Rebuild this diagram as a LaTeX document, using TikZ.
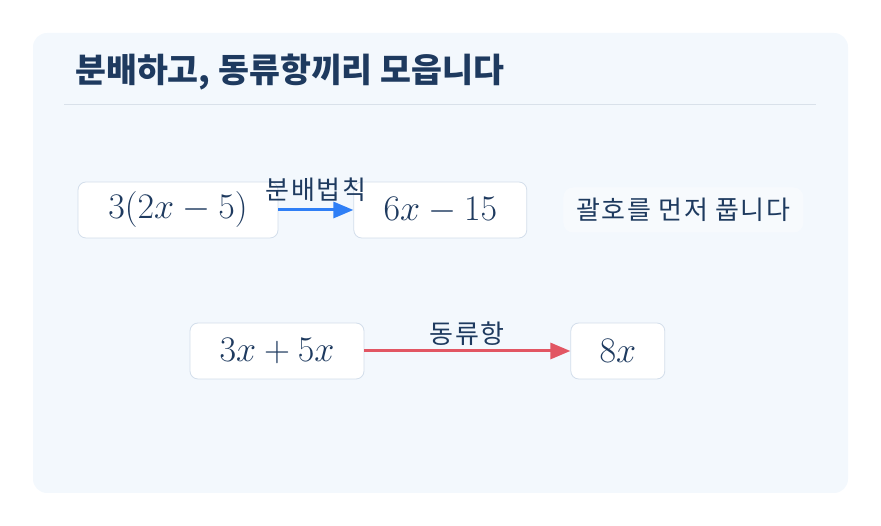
\documentclass[tikz,border=0pt]{standalone}
\usepackage{fix-cm}
\usepackage{fontspec}
\usepackage{amsmath}
\usetikzlibrary{positioning,arrows.meta}
\newfontfamily\kr{Noto Sans CJK KR}
\newfontfamily\krwide[LetterSpace=6]{Noto Sans CJK KR}
\definecolor{panelbg}{HTML}{F3F8FD}
\definecolor{boxline}{HTML}{D3DEEB}
\definecolor{ink}{HTML}{1E3A5F}
\definecolor{rulecol}{HTML}{D9E1EA}
\definecolor{distblue}{HTML}{2F7FF6}
\definecolor{likered}{HTML}{E25663}

\tikzset{
  expr/.style={rectangle, draw=boxline, line width=0.8pt, fill=white, rounded corners=8pt,
    minimum height=56pt, inner sep=0pt, text=ink, font=\fontsize{36}{42}\selectfont},
  steplabel/.style={text=ink, font=\krwide\fontsize{26}{30}\selectfont, inner sep=0pt},
  arr/.style={line width=3pt, -{Triangle[length=20pt,width=16pt]}}
}

\begin{document}
\begin{tikzpicture}[x=1pt, y=1pt]
    \useasboundingbox (0,0) rectangle (881,526);
    \fill[panelbg, rounded corners=14pt] (33,33) rectangle (848,493);

    \node[anchor=west, inner sep=0pt, text=ink, font=\kr\bfseries\fontsize{33.6}{40}\selectfont] (title) at (75,454) {분배하고, 동류항끼리 모읍니다};
    \draw[rulecol, line width=1pt] (64,421) -- (816,421);

    \node[expr, minimum width=200pt] (expand) at (178,316) {$3(2x-5)$};
    \node[expr, minimum width=173pt, right=75pt of expand] (expanded) {$6x-15$};
    \node[steplabel, fill=white, fill opacity=0.4, text opacity=1, rounded corners=10pt,
      inner xsep=13pt, minimum height=45pt, right=36pt of expanded] (note) {괄호를 먼저 풉니다};

    \node[expr, minimum width=174pt] (like) at (277,175) {$3x+5x$};
    \node[expr, minimum width=94pt, right=206pt of like] (sum) {$8x$};

    \draw[arr, distblue] (expand) -- node[steplabel, above=7pt] {분배법칙} (expanded);
    \draw[arr, likered] (like) -- node[steplabel, above=4pt] {동류항} (sum);
\end{tikzpicture}
\end{document}
